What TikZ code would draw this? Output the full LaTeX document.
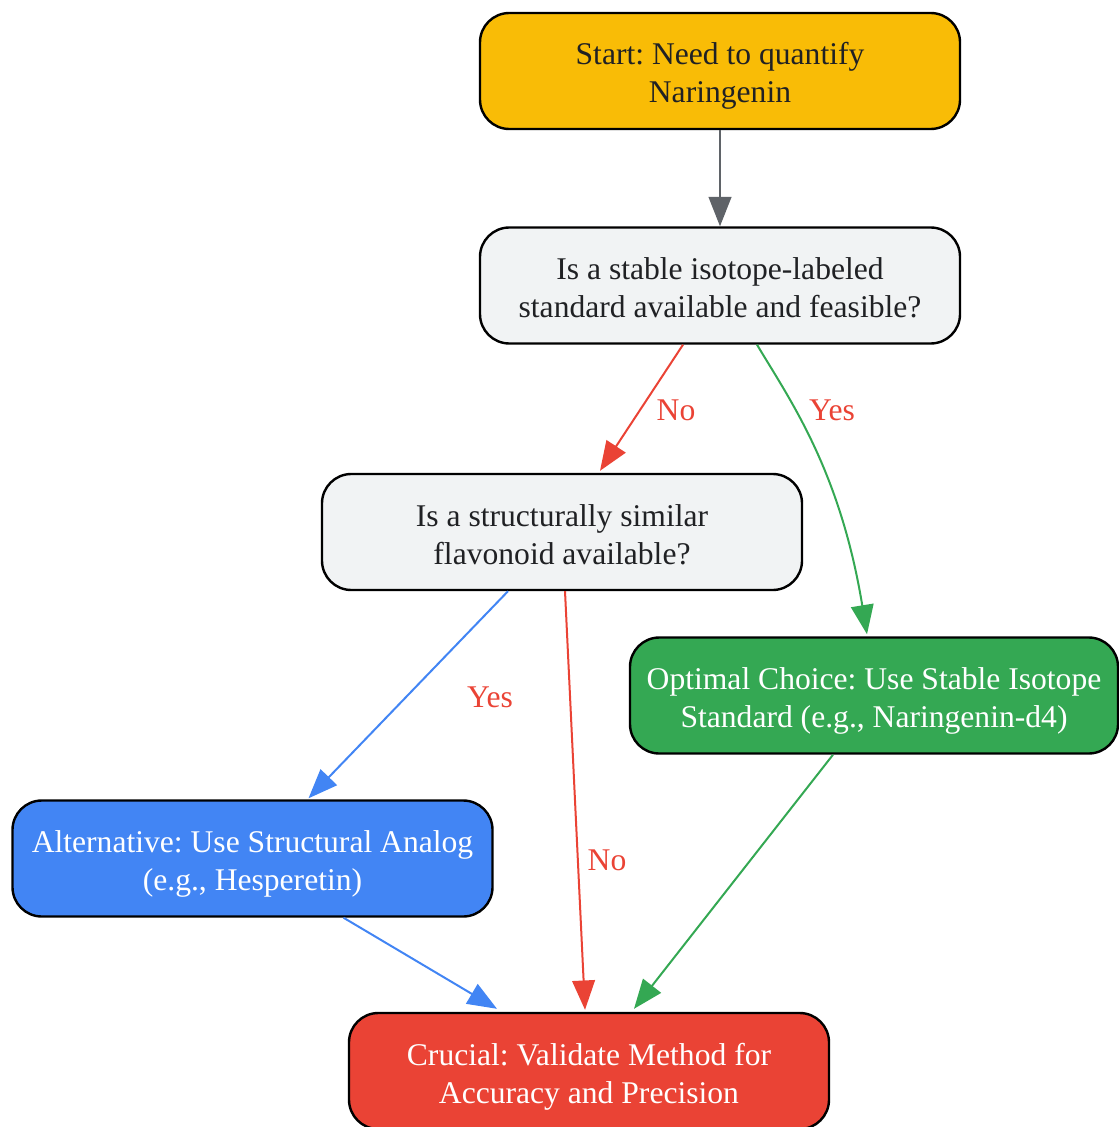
\documentclass[tikz,border=0pt]{standalone}
\usepackage{fontspec}
\setmainfont{Liberation Serif}
\usetikzlibrary{arrows.meta,calc}
\frenchspacing
\definecolor{cyellow}{HTML}{F9BC06}
\definecolor{cgray}{HTML}{F1F3F4}
\definecolor{cgreen}{HTML}{34A853}
\definecolor{cblue}{HTML}{4285F4}
\definecolor{cred}{HTML}{EA4335}
\definecolor{ctext}{HTML}{202124}
\definecolor{cedge}{HTML}{5F6368}
\newcommand\toprl{\rule{0pt}{26pt}}
\newcommand\botrl{\rule[-6.5pt]{0pt}{6.5pt}}
\tikzset{
  box/.style={draw=black, line width=1.8pt, rounded corners=22pt, minimum width=360pt, minimum height=87pt, align=center, inner sep=0pt, font=\fontsize{23.7}{28.5}\selectfont},
  conn/.style={line width=1.5pt, -{Triangle[length=22pt,width=17pt]}},
  lbl/.style={text=cred, font=\fontsize{23.7}{28.5}\selectfont, inner sep=0pt},
}
\begin{document}
\begin{tikzpicture}[x=0.75pt,y=-0.75pt]
\useasboundingbox (0,0) rectangle (1118,1127);
\node[box, fill=cyellow, text=ctext] (start) at (720,71) {\toprl Start: Need to quantify\\Naringenin\botrl};
\node[box, fill=cgray, text=ctext] (q1) at (720,285.5) {\toprl Is a stable isotope-labeled\\standard available and feasible?\botrl};
\node[box, fill=cgray, text=ctext] (q2) at (562,532) {\toprl Is a structurally similar\\flavonoid available?\botrl};
\node[box, fill=cgreen, text=white, minimum width=366pt] (opt) at (874,695.5) {\toprl Optimal Choice: Use Stable Isotope\\Standard (e.g., Naringenin-d4)\botrl};
\node[box, fill=cblue, text=white] (alt) at (252.5,858.5) {\toprl Alternative: Use Structural Analog\\(e.g., Hesperetin)\botrl};
\node[box, fill=cred, text=white] (cru) at (589,1071) {\toprl Crucial: Validate Method for\\Accuracy and Precision\botrl};

\draw[conn, cedge] (start.south) -- (q1.north);
\draw[conn, cred] ($(q1.south)+(-37,0)$) -- ($(q2.north)+(38,-2)$);
\draw[conn, cgreen] ($(q1.south)+(37,0)$) .. controls (790,400) and (840,470) .. ($(opt.north)+(-7,-2)$);
\draw[conn, cblue] ($(q2.south)+(-54,0)$) -- ($(alt.north)+(56,-1)$);
\draw[conn, cred] ($(q2.south)+(3,0)$) -- ($(cru.north)+(-4,-2)$);
\draw[conn, cblue] ($(alt.south)+(91,0)$) -- ($(cru.north)+(-92,-3)$);
\draw[conn, cgreen] ($(opt.south)+(-41,0)$) -- ($(cru.north)+(45,-3)$);

\node[lbl] (l1) at (676,410) {No};
\node[lbl] (l2) at (832,410) {Yes};
\node[lbl] (l3) at (490,697) {Yes};
\node[lbl] (l4) at (607,860) {No};
\end{tikzpicture}
\end{document}
